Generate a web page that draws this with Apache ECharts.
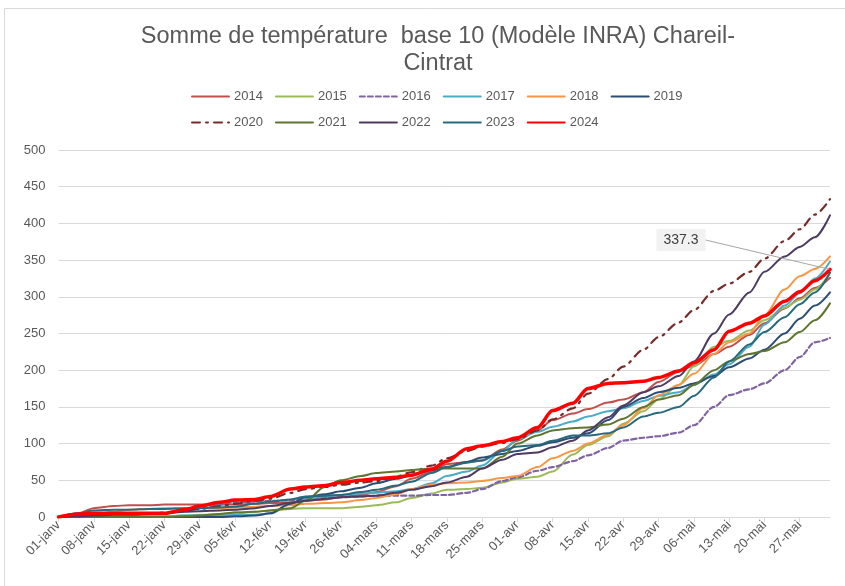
<!DOCTYPE html>
<html>
<head>
<meta charset="utf-8">
<script src="https://cdn.jsdelivr.net/npm/echarts@6/dist/echarts.min.js"></script>
<style>
html, body { margin: 0; padding: 0; background: #fff; }
#chart { width: 845px; height: 586px; }
</style>
</head>
<body>
<div id="chart"></div>
<script>
// axe des dates (année bissextile, 01-janv -> 02-juin)
const monthNames = ['janv', 'févr', 'mars', 'avr', 'mai', 'juin'];
const monthLengths = [31, 29, 31, 30, 31, 2];

// jours échantillonnés (index depuis le 01-janv)
const days = [0, 4, 7, 11, 14, 18, 21, 25, 28, 32, 35, 39, 42, 46, 49, 53, 56, 60, 63, 67,
    70, 74, 77, 81, 84, 88, 91, 95, 98, 102, 105, 109, 112, 116, 119, 123, 126, 130, 133, 137,
    140, 144, 147, 150, 153];

// sommes de température
const y2014 = [0, 5, 12, 15, 16, 16, 17, 17, 17, 17, 17, 18, 19, 20, 22, 24, 27, 30, 34, 42,
    52, 62, 72, 75, 77, 92, 104, 118, 132, 141, 147, 156, 160, 170, 184, 198, 206, 222, 232, 248,
    264, 284, 298, 312, 326];
const y2015 = [0, 0, 0, 0, 1, 1, 1, 2, 3, 4, 6, 7, 9, 11, 12, 12, 12, 14, 16, 20,
    26, 32, 37, 38, 40, 47, 52, 55, 62, 85, 98, 110, 127, 144, 160, 180, 205, 232, 240, 254,
    268, 285, 296, 310, 332];
const y2016 = [0, 1, 2, 3, 3, 4, 5, 8, 13, 17, 20, 21, 22, 23, 24, 26, 27, 28, 29, 29,
    29, 30, 30, 33, 38, 49, 54, 63, 68, 76, 84, 94, 104, 108, 110, 115, 125, 150, 166, 174,
    182, 200, 218, 238, 244];
const y2017 = [0, 0, 0, 1, 1, 1, 1, 2, 2, 2, 3, 3, 5, 18, 24, 28, 30, 32, 33, 35,
    38, 46, 56, 62, 70, 90, 106, 116, 123, 130, 137, 144, 148, 158, 165, 170, 180, 194, 208, 232,
    262, 288, 305, 325, 348];
const y2018 = [0, 2, 4, 7, 10, 11, 12, 12, 12, 12, 13, 14, 15, 16, 18, 19, 20, 23, 26, 31,
    38, 44, 46, 47, 49, 53, 56, 68, 80, 90, 100, 112, 125, 148, 166, 180, 195, 222, 238, 250,
    275, 310, 328, 338, 355];
const y2019 = [0, 0, 0, 0, 0, 0, 0, 0, 0, 0, 1, 2, 5, 18, 27, 31, 35, 40, 46, 52,
    57, 64, 68, 75, 81, 86, 90, 97, 102, 108, 114, 132, 150, 162, 170, 176, 182, 192, 204, 216,
    228, 250, 270, 288, 306];
const y2020 = [0, 2, 3, 4, 5, 5, 6, 8, 11, 15, 18, 22, 25, 33, 38, 41, 44, 47, 49, 55,
    61, 70, 80, 90, 96, 101, 106, 118, 133, 148, 168, 188, 205, 228, 245, 265, 282, 308, 318, 334,
    352, 376, 392, 412, 433];
const y2021 = [0, 0, 0, 0, 0, 0, 0, 1, 2, 4, 6, 7, 9, 12, 22, 42, 50, 56, 60, 62,
    64, 66, 66, 66, 66, 82, 100, 111, 118, 121, 122, 126, 134, 150, 160, 166, 180, 200, 212, 222,
    226, 238, 252, 268, 291];
const y2022 = [0, 1, 2, 3, 3, 4, 5, 7, 8, 9, 10, 12, 15, 19, 22, 25, 27, 28, 29, 33,
    37, 42, 47, 55, 66, 78, 86, 88, 95, 104, 118, 136, 152, 170, 178, 192, 212, 250, 276, 306,
    334, 355, 368, 381, 411];
const y2023 = [0, 5, 9, 10, 10, 11, 11, 12, 12, 13, 14, 18, 21, 24, 28, 29, 30, 34, 37, 43,
    48, 60, 68, 74, 77, 90, 96, 98, 104, 111, 111, 114, 122, 137, 142, 150, 165, 190, 212, 235,
    252, 272, 290, 306, 333];
const y2024 = [0, 4, 5, 5, 5, 5, 5, 10, 15, 20, 23, 24, 28, 38, 41, 43, 47, 50, 52, 54,
    57, 65, 76, 93, 97, 103, 108, 122, 145, 155, 175, 182, 183, 185, 190, 199, 210, 228, 253, 264,
    274, 294, 307, 322, 337.3];

const yearsRow1 = ['2014', '2015', '2016', '2017', '2018', '2019'];
const yearsRow2 = ['2020', '2021', '2022', '2023', '2024'];

// libellés des jours
const dateLabels = [];
monthNames.forEach((m, mi) => {
    for (let d = 1; d <= monthLengths[mi]; d++) {
        dateLabels.push((d < 10 ? '0' + d : '' + d) + '-' + m);
    }
});

function pairs(vals) {
    return days.map((d, i) => [d, vals[i]]);
}

function makeSeries(name, vals, color, width, type) {
    return {
        name: name,
        type: 'line',
        data: pairs(vals),
        symbol: 'none',
        smooth: 0.3,
        smoothMonotone: 'x',
        lineStyle: { color: color, width: width, type: type || 'solid', cap: 'round' },
        itemStyle: { color: color },
        emphasis: { disabled: true },
        z: 2
    };
}

const series = [
    makeSeries('2014', y2014, '#C0504D', 2),
    makeSeries('2015', y2015, '#9BBB59', 2),
    makeSeries('2016', y2016, '#8064A2', 2.2, [5, 3]),
    makeSeries('2017', y2017, '#4BACC6', 2),
    makeSeries('2018', y2018, '#F79646', 2),
    makeSeries('2019', y2019, '#2C4D75', 2),
    makeSeries('2020', y2020, '#772C2A', 2.2, [8, 6, 2, 6]),
    makeSeries('2021', y2021, '#5F7530', 2),
    makeSeries('2022', y2022, '#4D3B62', 2),
    makeSeries('2023', y2023, '#276A7C', 2),
    makeSeries('2024', y2024, '#FF0000', 3.5)
];

// étiquette sur la dernière valeur 2024
const s24 = series[10];
const last = y2024.length - 1;
s24.symbol = 'circle';
s24.symbolSize = 1;
s24.showSymbol = true;
s24.data[last] = {
    value: [days[last], y2024[last]],
    label: {
        show: true,
        formatter: (p) => p.value[1].toFixed(1),
        backgroundColor: '#f2f2f2',
        padding: [4, 7],
        color: '#404040',
        fontSize: 14,
        fontFamily: 'Liberation Sans'
    },
    labelLine: { show: true, lineStyle: { color: '#a6a6a6', width: 1 } }
};
s24.labelLayout = function (params) {
    if (params.dataIndex !== last) return {};
    return { x: 681, y: 240, align: 'center', verticalAlign: 'middle' };
};
s24.z = 5;

const legendText = { fontSize: 13, color: '#595959', fontFamily: 'Liberation Sans' };

const chart = echarts.init(document.getElementById('chart'), null, { renderer: 'canvas' });
chart.setOption({
    animation: false,
    backgroundColor: '#fff',
    title: {
        text: 'Somme de température  base 10 (Modèle INRA) Chareil-\nCintrat',
        left: 433,
        top: 18,
        textAlign: 'center',
        textStyle: { fontSize: 23.5, fontWeight: 'normal', color: '#595959', lineHeight: 27, fontFamily: 'Liberation Sans' }
    },
    legend: [
        { data: yearsRow1, left: 186, top: 85, itemWidth: 37, itemHeight: 12, itemGap: 12,
          itemStyle: { opacity: 0 }, textStyle: legendText },
        { data: yearsRow2, left: 186, top: 111, itemWidth: 37, itemHeight: 12, itemGap: 12,
          itemStyle: { opacity: 0 }, textStyle: legendText }
    ],
    grid: { left: 58.5, right: 15, top: 150, bottom: 69 },
    xAxis: {
        type: 'category',
        data: dateLabels,
        boundaryGap: false,
        axisLine: { lineStyle: { color: '#d9d9d9' } },
        axisTick: { show: true, interval: 6, length: 5, lineStyle: { color: '#d9d9d9' } },
        axisLabel: { interval: 6, rotate: 45, fontSize: 13, color: '#595959', margin: 6, fontFamily: 'Liberation Sans' },
        splitLine: { show: false }
    },
    yAxis: {
        type: 'value',
        min: 0,
        max: 500,
        interval: 50,
        axisLine: { show: false },
        axisTick: { show: false },
        axisLabel: { fontSize: 13, color: '#595959', margin: 13, fontFamily: 'Liberation Sans' },
        splitLine: { lineStyle: { color: '#d9d9d9', width: 1 } }
    },
    graphic: [{
        type: 'rect',
        silent: true,
        shape: { x: 4.5, y: 8.5, width: 860, height: 600 },
        style: { fill: 'none', stroke: '#d9d9d9', lineWidth: 1 }
    }],
    series: series
});
</script>
</body>
</html>
